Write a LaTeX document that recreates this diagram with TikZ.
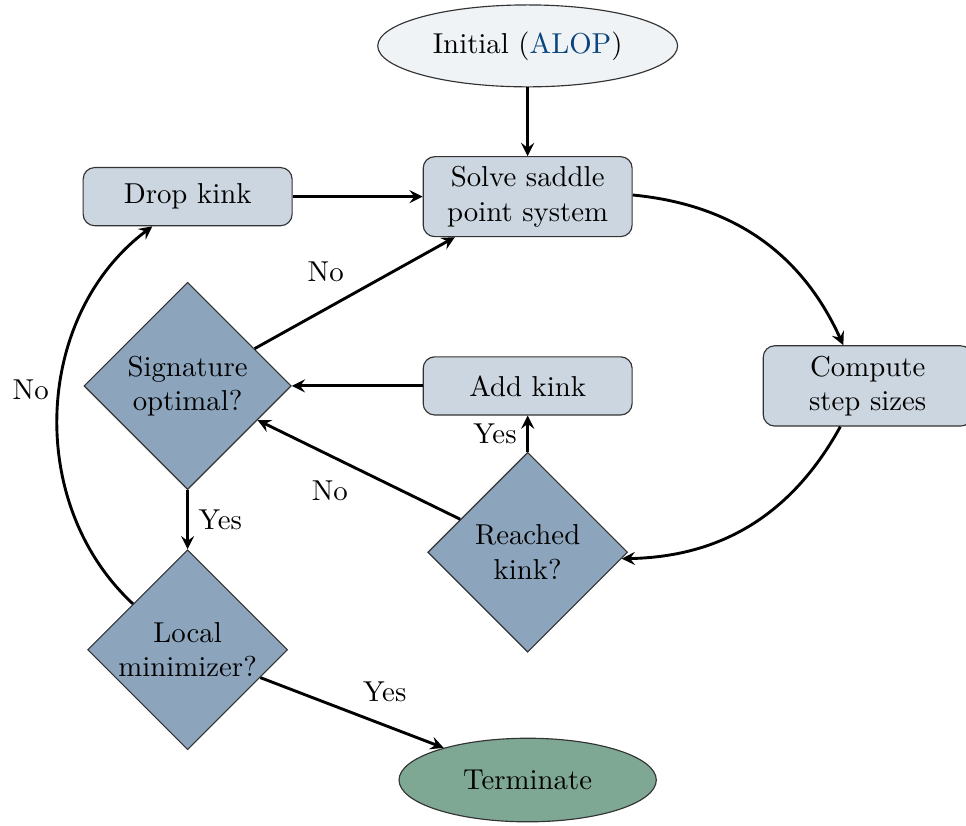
\documentclass[tikz,border=0pt]{standalone}
\usepackage{tikz}
\usepackage{xcolor}
\usetikzlibrary{arrows, positioning, shapes.geometric, shapes.misc}
\definecolor{blockfill}{RGB}{204,214,224}
\definecolor{decisionfill}{RGB}{140,165,189}
\definecolor{initfill}{RGB}{240,243,246}
\definecolor{termfill}{RGB}{127,168,148}
\definecolor{alopblue}{RGB}{10,70,125}
\tikzset{%
  block/.style={draw=black!80, rectangle, rounded corners=4pt, fill=blockfill, align=center, minimum width=2.55cm, minimum height=0.71cm},
  decision/.style={draw=black!80, diamond, aspect=1, inner sep=0pt, fill=decisionfill, align=center, minimum size=2.44cm},
  startstop/.style={draw=black!80, ellipse, align=center, minimum height=1cm},
  edge/.style={line width=1pt, -stealth}
}
\begin{document}
\begin{tikzpicture}[on grid]
  \useasboundingbox (0,0) rectangle (11.79,-10.07);
  \node[startstop, fill=initfill, minimum width=3.66cm] (init) at (6.44,-0.56) {Initial (\textcolor{alopblue}{ALOP})};
  \node[block, below=1.84 of init] (solve) {Solve saddle\\point system};
  \node[block, left=4.15 of solve] (drop) {Drop kink};
  \node[block, below=2.31 of solve] (add) {Add kink};
  \node[decision, left=4.15 of add, minimum size=2.53cm] (sig) {Signature\\optimal?};
  \node[block, right=4.15 of add, minimum height=0.98cm] (comp) {Compute\\step sizes};
  \node[decision, below=2.03 of add] (reach) {Reached\\kink?};
  \node[decision, below=3.22 of sig] (local) {Local\\minimizer?};
  \node[startstop, fill=termfill, minimum width=3.14cm, minimum height=1.02cm, below=2.78 of reach] (term) {Terminate};

  \draw[edge] (init) -- (solve);
  \draw[edge] (drop) -- (solve);
  \draw[edge] (solve) to[bend left=30] (comp);
  \draw[edge] (comp) to[bend left=30] (reach);
  \draw[edge] (reach) -- node[left] {Yes} (add);
  \draw[edge] (add) -- (sig);
  \draw[edge] (reach) -- node[below left] {No} (sig);
  \draw[edge] (sig) -- node[above left] {No} (solve);
  \draw[edge] (sig) -- node[right] {Yes} (local);
  \draw[edge] (local) -- node[above right] {Yes} (term);
  \draw[edge] (local) to[bend left=50] node[pos=0.55, left] {No} (drop);
\end{tikzpicture}
\end{document}
